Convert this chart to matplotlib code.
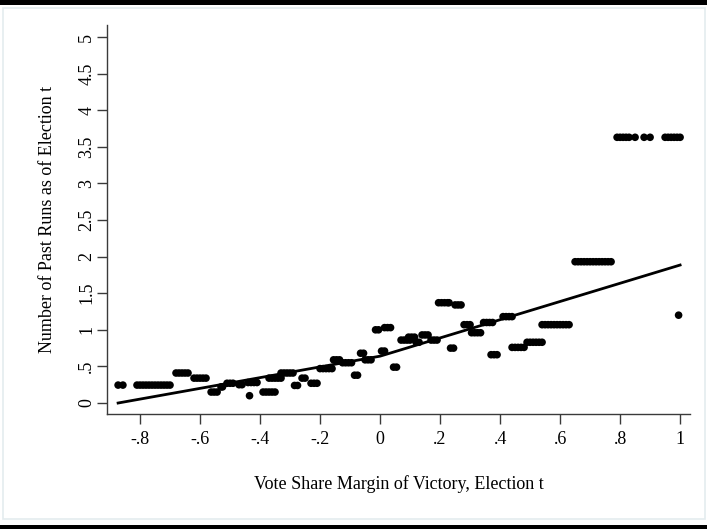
import matplotlib
matplotlib.use("Agg")
import matplotlib.pyplot as plt
from matplotlib.patches import Rectangle

plt.rcParams['font.family'] = ['Liberation Serif', 'DejaVu Serif']

# Binned scatter values (x = vote share margin, y = mean past runs)
pts_x = [
    -0.873, -0.857,
    -0.81, -0.80, -0.79, -0.78, -0.77, -0.76, -0.75, -0.74, -0.73, -0.72, -0.71, -0.70,
    -0.68, -0.67, -0.66, -0.65, -0.64,
    -0.62, -0.61, -0.60, -0.59, -0.58,
    -0.563, -0.553, -0.543,
    -0.53, -0.525,
    -0.51, -0.50, -0.49,
    -0.47, -0.46,
    -0.44, -0.43, -0.42, -0.41,
    -0.435,
    -0.39, -0.38, -0.37, -0.36, -0.35,
    -0.37, -0.36, -0.35, -0.34, -0.33,
    -0.33, -0.32, -0.31, -0.30, -0.29,
    -0.285, -0.275,
    -0.26, -0.25,
    -0.23, -0.22, -0.21,
    -0.20, -0.19, -0.18, -0.17, -0.16,
    -0.155, -0.145, -0.135,
    -0.125, -0.115, -0.105, -0.095,
    -0.085, -0.075,
    -0.065, -0.055,
    -0.05, -0.04, -0.03,
    -0.015, -0.005,
    0.015, 0.025, 0.035,
    0.005, 0.015,
    0.045, 0.055,
    0.07, 0.08, 0.09, 0.10,
    0.095, 0.105, 0.115,
    0.12, 0.13,
    0.14, 0.15, 0.16,
    0.17, 0.18, 0.19,
    0.195, 0.205, 0.215, 0.225, 0.23,
    0.25, 0.26, 0.27,
    0.235, 0.245,
    0.28, 0.29, 0.30,
    0.305, 0.315, 0.325, 0.335,
    0.345, 0.355, 0.365, 0.375,
    0.37, 0.38, 0.39,
    0.41, 0.42, 0.43, 0.44,
    0.44, 0.45, 0.46, 0.47, 0.48,
    0.49, 0.50, 0.51, 0.52, 0.53, 0.54,
    0.54, 0.55, 0.56, 0.57, 0.58, 0.59, 0.60, 0.61, 0.62, 0.63,
    0.65, 0.66, 0.67, 0.68, 0.69, 0.70, 0.71, 0.72, 0.73, 0.74, 0.75, 0.76, 0.77,
    0.79, 0.80, 0.81, 0.82, 0.83, 0.85, 0.88, 0.90, 0.95, 0.96, 0.97, 0.98, 0.99, 1.0,
    0.995,
]
pts_y = [
    0.245, 0.245,
    0.245, 0.245, 0.245, 0.245, 0.245, 0.245, 0.245, 0.245, 0.245, 0.245, 0.245, 0.245,
    0.41, 0.41, 0.41, 0.41, 0.41,
    0.34, 0.34, 0.34, 0.34, 0.34,
    0.15, 0.15, 0.15,
    0.22, 0.22,
    0.27, 0.27, 0.27,
    0.25, 0.25,
    0.28, 0.28, 0.28, 0.28,
    0.10,
    0.15, 0.15, 0.15, 0.15, 0.15,
    0.34, 0.34, 0.34, 0.34, 0.34,
    0.41, 0.41, 0.41, 0.41, 0.41,
    0.24, 0.24,
    0.34, 0.34,
    0.27, 0.27, 0.27,
    0.47, 0.47, 0.47, 0.47, 0.47,
    0.59, 0.59, 0.59,
    0.55, 0.55, 0.55, 0.55,
    0.38, 0.38,
    0.68, 0.68,
    0.59, 0.59, 0.59,
    1.00, 1.00,
    1.03, 1.03, 1.03,
    0.71, 0.71,
    0.49, 0.49,
    0.86, 0.86, 0.86, 0.86,
    0.90, 0.90, 0.90,
    0.83, 0.83,
    0.93, 0.93, 0.93,
    0.86, 0.86, 0.86,
    1.37, 1.37, 1.37, 1.37, 1.37,
    1.34, 1.34, 1.34,
    0.75, 0.75,
    1.07, 1.07, 1.07,
    0.96, 0.96, 0.96, 0.96,
    1.10, 1.10, 1.10, 1.10,
    0.66, 0.66, 0.66,
    1.18, 1.18, 1.18, 1.18,
    0.76, 0.76, 0.76, 0.76, 0.76,
    0.83, 0.83, 0.83, 0.83, 0.83, 0.83,
    1.07, 1.07, 1.07, 1.07, 1.07, 1.07, 1.07, 1.07, 1.07, 1.07,
    1.93, 1.93, 1.93, 1.93, 1.93, 1.93, 1.93, 1.93, 1.93, 1.93, 1.93, 1.93, 1.93,
    3.63, 3.63, 3.63, 3.63, 3.63, 3.63, 3.63, 3.63, 3.63, 3.63, 3.63, 3.63, 3.63, 3.63,
    1.20,
]

# Fitted line
fit_x = [-0.873, 0.0, 1.0]
fit_y = [0.0, 0.64, 1.885]

xticks = [-0.8, -0.6, -0.4, -0.2, 0, 0.2, 0.4, 0.6, 0.8, 1]
xtick_labels = ['-.8', '-.6', '-.4', '-.2', '0', '.2', '.4', '.6', '.8', '1']
yticks = [0, 0.5, 1, 1.5, 2, 2.5, 3, 3.5, 4, 4.5, 5]
ytick_labels = ['0', '.5', '1', '1.5', '2', '2.5', '3', '3.5', '4', '4.5', '5']

W, H = 707, 529
fig = plt.figure(figsize=(W / 100, H / 100), dpi=100)
fig.patch.set_facecolor('white')

# outer frame decorations
fig.add_artist(Rectangle((0, 1 - 5 / H), 1, 5 / H, transform=fig.transFigure,
                         facecolor='black', edgecolor='none'))
fig.add_artist(Rectangle((0, 0), 1, 4 / H, transform=fig.transFigure,
                         facecolor='black', edgecolor='none'))
fig.add_artist(Rectangle((2.5 / W, 10 / H), (W - 5) / W, (H - 18) / H,
                         transform=fig.transFigure, facecolor='none',
                         edgecolor='#e4ecef', linewidth=1.2))

ax = fig.add_axes([107 / W, 1 - 414 / H, (690 - 107) / W, (414 - 25) / H])
ax.scatter(pts_x, pts_y, s=30, color='black', edgecolors='none', zorder=3)
ax.plot(fit_x, fit_y, color='black', linewidth=2.0, zorder=4)

ax.set_xlim(-0.91, 1.033)
ax.set_ylim(-0.15, 5.164)
ax.set_xticks(xticks)
ax.set_xticklabels(xtick_labels)
ax.set_yticks(yticks)
ax.set_yticklabels(ytick_labels, rotation=90, va='center')

for s in ['top', 'right']:
    ax.spines[s].set_visible(False)
for s in ['left', 'bottom']:
    ax.spines[s].set_color('#3a3a3a')
    ax.spines[s].set_linewidth(1.0)
ax.tick_params(axis='both', direction='out', length=7, width=1.0, color='#3a3a3a',
               labelsize=13)
ax.tick_params(axis='x', pad=5)
ax.tick_params(axis='y', pad=1.5)

ax.set_xlabel('Vote Share Margin of Victory, Election t', fontsize=13, labelpad=20)
ax.set_ylabel('Number of Past Runs as of Election t', fontsize=13, labelpad=16)

fig.savefig('out.png', dpi=100)
